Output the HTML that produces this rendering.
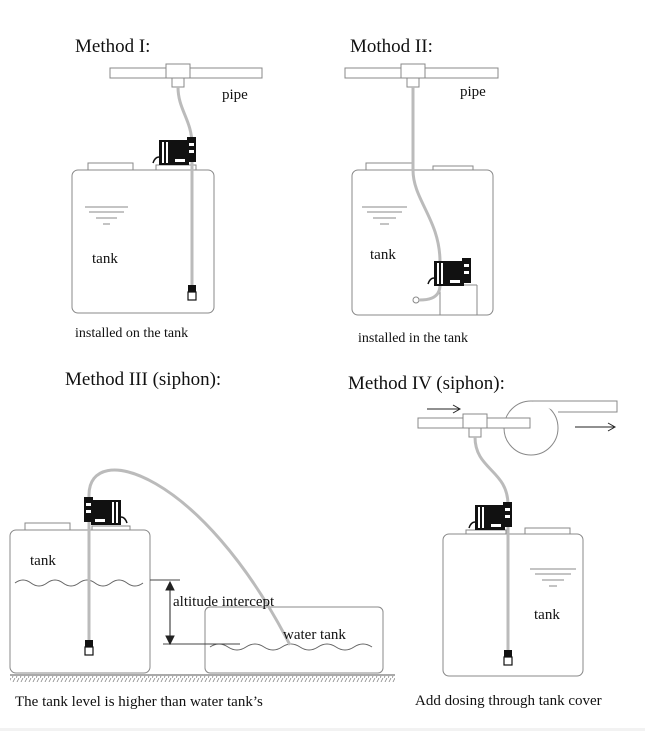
<!DOCTYPE html>
<html><head><meta charset="utf-8"><style>
html,body{margin:0;padding:0;background:#fff;}
svg{display:block;}
text{font-family:"Liberation Serif",serif;fill:#111;}
</style></head><body>
<svg width="645" height="731" viewBox="0 0 645 731" xmlns="http://www.w3.org/2000/svg">
<defs>
<g id="pump">
  <path d="M-4 26 q2 -6 6 -6" fill="none" stroke="#111" stroke-width="1.5"/>
  <rect x="2" y="3" width="30" height="25" fill="#111"/>
  <rect x="5" y="5" width="2" height="21" fill="#fff"/>
  <rect x="9" y="5" width="2" height="21" fill="#fff"/>
  <rect x="18" y="22" width="10" height="3" fill="#fff"/>
  <rect x="30" y="0" width="9" height="25" fill="#111"/>
  <rect x="32" y="6" width="5" height="3" fill="#fff"/>
  <rect x="32" y="13" width="5" height="3" fill="#fff"/>
</g>
<g id="foot">
  <rect x="-4" y="0" width="8" height="7" fill="#111"/>
  <rect x="-4" y="7" width="8" height="8" fill="#fff" stroke="#111" stroke-width="1.2"/>
</g>
<pattern id="hatch" width="4" height="6" patternUnits="userSpaceOnUse">
  <line x1="0" y1="6" x2="3" y2="0" stroke="#888" stroke-width="0.8"/>
</pattern>
</defs>

<g fill="none" stroke="#888" stroke-width="1">
<!-- Method I -->
<rect x="110" y="68" width="152" height="10" fill="#fff"/>
<rect x="166" y="64" width="24" height="14" fill="#fff"/>
<rect x="172" y="78" width="12" height="9" fill="#fff"/>
<rect x="72" y="170" width="142" height="143" rx="6"/>
<rect x="88" y="163" width="45" height="7"/>
<rect x="156" y="165" width="40" height="5"/>
<line x1="85" y1="207" x2="128" y2="207"/><line x1="89" y1="212" x2="124" y2="212"/>
<line x1="96" y1="218" x2="117" y2="218"/><line x1="103" y1="224" x2="110" y2="224"/>
<!-- Method II -->
<rect x="345" y="68" width="153" height="10" fill="#fff"/>
<rect x="401" y="64" width="24" height="14" fill="#fff"/>
<rect x="407" y="78" width="12" height="9" fill="#fff"/>
<rect x="352" y="170" width="141" height="145" rx="6"/>
<rect x="366" y="163" width="47" height="7"/>
<rect x="433" y="166" width="40" height="4"/>
<line x1="362" y1="207" x2="407" y2="207"/><line x1="367" y1="212" x2="402" y2="212"/>
<line x1="373" y1="218" x2="396" y2="218"/><line x1="380" y1="224" x2="389" y2="224"/>
<path d="M440 285 v30 M477 285 v30 M440 285 h37"/>
<circle cx="416" cy="300" r="3"/>
<!-- Method III -->
<rect x="10" y="530" width="140" height="143" rx="6"/>
<rect x="25" y="523" width="45" height="7"/>
<rect x="92" y="526" width="38" height="4"/>
<rect x="205" y="607" width="178" height="66" rx="5"/>
<path d="M15 583 q8 -6 16 0 t16 0 t16 0 t16 0 t16 0 t16 0 t16 0 t16 0" stroke="#666"/>
<path d="M210 647 q9 -6 18 0 t18 0 t18 0 t18 0 t18 0 t18 0 t18 0 t18 0 t18 0" stroke="#666"/>
<line x1="150" y1="580" x2="180" y2="580" stroke="#444"/>
<line x1="163" y1="644" x2="240" y2="644" stroke="#444"/>
<line x1="10" y1="675" x2="395" y2="675" stroke="#555"/>
<!-- Method IV -->
<circle cx="531" cy="428" r="27" fill="#fff"/>
<path d="M531 401 L617 401 L617 412 L558 412" fill="#fff"/>
<rect x="418" y="418" width="112" height="10" fill="#fff"/>
<rect x="463" y="414" width="24" height="14" fill="#fff"/>
<rect x="469" y="428" width="12" height="9" fill="#fff"/>
<rect x="443" y="534" width="140" height="142" rx="6"/>
<rect x="525" y="528" width="45" height="6"/>
<rect x="466" y="530" width="40" height="4"/>
<line x1="530" y1="569" x2="576" y2="569"/><line x1="535" y1="574" x2="571" y2="574"/>
<line x1="542" y1="580" x2="564" y2="580"/><line x1="549" y1="586" x2="557" y2="586"/>
</g>
<rect x="10" y="676" width="385" height="6" fill="url(#hatch)"/>

<!-- hoses -->
<g fill="none" stroke="#bbb" stroke-width="3">
<path d="M178 87 C178 110 192 120 192 145 L192 286"/>
<path d="M413 87 L413 170 C413 200 440 220 440 262"/>
<path d="M440 285 C440 300 425 300 419 300"/>
<path d="M89 640 L89 495 C89 440 200 470 290 645"/>
<path d="M475 437 C475 470 508 470 508 505 L508 650"/>
</g>

<!-- pumps -->
<use href="#pump" x="157" y="137"/>
<use href="#pump" x="432" y="258"/>
<g transform="translate(123,497) scale(-1,1)"><use href="#pump"/></g>
<use href="#pump" x="473" y="502"/>
<use href="#foot" x="192" y="285"/>
<use href="#foot" x="89" y="640"/>
<use href="#foot" x="508" y="650"/>

<!-- arrows -->
<g stroke="#222" stroke-width="1" fill="none">
<line x1="170" y1="586" x2="170" y2="640"/>
<path d="M166 590 L170 582 L174 590 Z M166 636 L170 644 L174 636 Z" fill="#222"/>
<line x1="427" y1="409" x2="459" y2="409"/><path d="M453 405 L460 409 L453 413"/>
<line x1="575" y1="427" x2="614" y2="427"/><path d="M608 423 L615 427 L608 431"/>
</g>

<!-- text -->
<text x="75" y="52" font-size="19">Method I:</text>
<text x="350" y="52" font-size="19">Mothod II:</text>
<text x="65" y="385" font-size="19">Method III (siphon):</text>
<text x="348" y="389" font-size="19">Method IV (siphon):</text>
<text x="222" y="99" font-size="15">pipe</text>
<text x="460" y="96" font-size="15">pipe</text>
<text x="92" y="263" font-size="15">tank</text>
<text x="370" y="259" font-size="15">tank</text>
<text x="30" y="565" font-size="15">tank</text>
<text x="534" y="619" font-size="15">tank</text>
<text x="173" y="606" font-size="15">altitude intercept</text>
<text x="283" y="639" font-size="15">water tank</text>
<text x="75" y="337" font-size="14">installed on the tank</text>
<text x="358" y="342" font-size="14">installed in the tank</text>
<text x="15" y="706" font-size="15">The tank level is higher than water tank’s</text>
<text x="415" y="705" font-size="15">Add dosing through tank cover</text>
<rect x="0" y="728" width="645" height="3" fill="#f2f2f2"/>
</svg>
</body></html>
